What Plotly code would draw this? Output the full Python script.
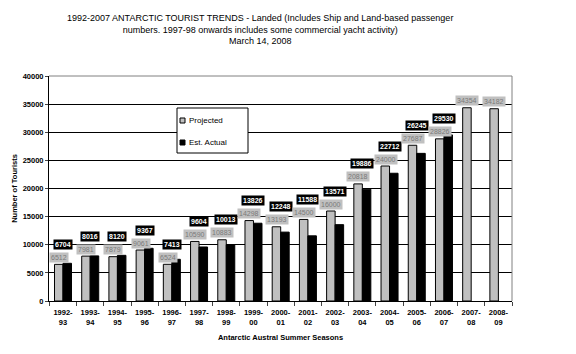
import plotly.graph_objects as go

seasons = ["1992-93", "1993-94", "1994-95", "1995-96", "1996-97", "1997-98", "1998-99",
           "1999-00", "2000-01", "2001-02", "2002-03", "2003-04", "2004-05", "2005-06",
           "2006-07", "2007-08", "2008-09"]
season_labels = [s[:5] + "<br>" + s[5:] for s in seasons]
projected = [6512, 7981, 7879, 9061, 6524, 10590, 10883, 14298, 13193, 14500, 16000,
             20818, 24000, 27687, 28826, 34354, 34182]
actual = [6704, 8016, 8120, 9367, 7413, 9604, 10013, 13826, 12248, 11588, 13571,
          19886, 22712, 26245, 29530, None, None]
y_ticks = [0, 5000, 10000, 15000, 20000, 25000, 30000, 35000, 40000]

FONT = "Arial, Liberation Sans, sans-serif"
PL, PT, PW, PH = 49, 76, 463, 225  # plot area in pixels


def px(x):
    return (x - PL) / PW


def py(y):
    return (PT + PH - y) / PH


fig = go.Figure()
fig.add_trace(go.Bar(x=seasons, y=projected, name="Projected",
                     marker=dict(color="#c0c0c0", line=dict(color="black", width=1))))
fig.add_trace(go.Bar(x=seasons, y=actual, name="Est. Actual",
                     marker=dict(color="black", line=dict(color="black", width=1))))

annotations = []
for s, p, a in zip(seasons, projected, actual):
    annotations.append(dict(x=s, y=p, xref="x", yref="y", text=str(p), showarrow=False,
                            xshift=-4, yshift=7, bgcolor="#c0c0c0",
                            font=dict(size=7, color="#7a7a7a", family=FONT), borderpad=1))
    if a is not None:
        annotations.append(dict(x=s, y=p, xref="x", yref="y", text="<b>%d</b>" % a,
                                showarrow=False, xshift=0, yshift=20, bgcolor="black",
                                font=dict(size=7, color="white", family=FONT), borderpad=1))

annotations.append(dict(x=px(260), y=py(29), xref="paper", yref="paper", showarrow=False,
                        xanchor="center", yanchor="middle",
                        text="1992-2007 ANTARCTIC TOURIST TRENDS - Landed (Includes Ship and Land-based passenger<br>"
                             "numbers. 1997-98 onwards includes some commercial yacht activity)<br>March 14, 2008",
                        font=dict(size=9, family=FONT, color="black")))

# manual legend
annotations.append(dict(x=px(187), y=py(120), xref="paper", yref="paper", showarrow=False,
                        xanchor="left", yanchor="middle", text="Projected",
                        font=dict(size=8, family=FONT, color="black")))
annotations.append(dict(x=px(187), y=py(142), xref="paper", yref="paper", showarrow=False,
                        xanchor="left", yanchor="middle", text="Est. Actual",
                        font=dict(size=8, family=FONT, color="black")))

shapes = [
    dict(type="line", xref="paper", yref="paper", x0=0, x1=1, y0=1, y1=1,
         line=dict(color="#808080", width=1)),
    dict(type="line", xref="paper", yref="paper", x0=1, x1=1, y0=0, y1=1,
         line=dict(color="#808080", width=1)),
    dict(type="rect", xref="paper", yref="paper", x0=px(177), x1=px(248), y0=py(153), y1=py(108),
         line=dict(color="black", width=1), fillcolor="white", layer="above"),
    dict(type="rect", xref="paper", yref="paper", x0=px(180), x1=px(185), y0=py(123), y1=py(118),
         line=dict(color="black", width=1), fillcolor="#c0c0c0", layer="above"),
    dict(type="rect", xref="paper", yref="paper", x0=px(180), x1=px(185), y0=py(145), y1=py(140),
         line=dict(color="black", width=1), fillcolor="black", layer="above"),
]

fig.update_layout(
    width=576, height=354, paper_bgcolor="white", plot_bgcolor="white",
    margin=dict(l=PL, r=576 - PL - PW, t=PT, b=354 - PT - PH),
    barmode="group", bargap=0.375, bargroupgap=0,
    font=dict(family=FONT, size=8, color="black"),
    showlegend=False,
    xaxis=dict(type="category", tickmode="array", tickvals=seasons,
               ticktext=["<b>%s</b>" % t for t in season_labels],
               tickfont=dict(size=7.5, family=FONT), ticks="outside", ticklen=4,
               ticklabelstandoff=4,
               tickson="boundaries", showline=True, linecolor="black", linewidth=1,
               showgrid=False, tickangle=0,
               title=dict(text="<b>Antarctic Austral Summer Seasons</b>",
                          font=dict(size=7.5, family=FONT), standoff=8)),
    yaxis=dict(range=[0, 40000], tickvals=y_ticks,
               ticktext=["<b>%d</b>" % v for v in y_ticks],
               tickfont=dict(size=7.5, family=FONT), ticks="outside", ticklen=3,
               showline=True, linecolor="black", linewidth=1,
               showgrid=True, gridcolor="black", gridwidth=1, zeroline=False,
               title=dict(text="<b>Number of Tourists</b>", font=dict(size=7.5, family=FONT),
                          standoff=4)),
    annotations=annotations,
    shapes=shapes,
)
fig.write_html("out.html")
